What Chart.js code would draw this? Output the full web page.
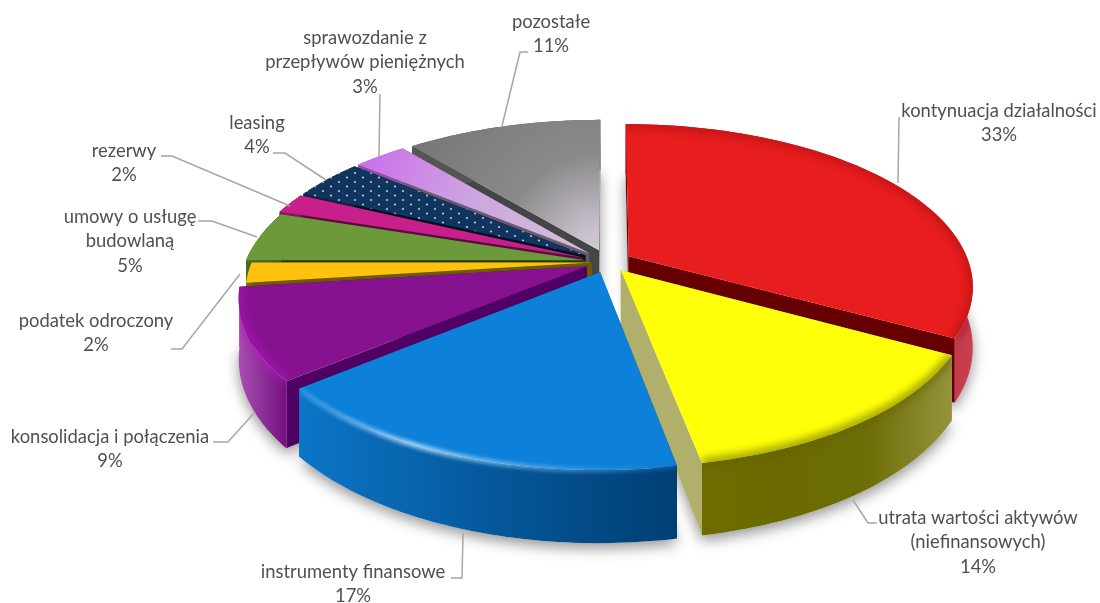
<!DOCTYPE html>
<html lang="pl">
<head>
<meta charset="utf-8">
<script src="https://cdn.jsdelivr.net/npm/chart.js"></script>
<style>
    html, body { margin: 0; padding: 0; background: #fff; }
    canvas { display: block; }
</style>
</head>
<body>
<canvas id="pie" width="1100" height="603"></canvas>
<script>
    const categories = [
        'kontynuacja działalności', 'utrata wartości aktywów (niefinansowych)', 'instrumenty finansowe',
        'konsolidacja i połączenia', 'podatek odroczony', 'umowy o usługę budowlaną', 'rezerwy', 'leasing',
        'sprawozdanie z przepływów pieniężnych', 'pozostałe'
    ];
    const values = [33, 14, 17, 9, 2, 5, 2, 4, 3, 11];

    const topColors = ['#e81d1d', '#ffff0a', '#0d80da', '#86128f', '#ffc20e', '#6c9a3a', '#c81f8c', '#12355f', '#cb78e8', '#777777'];
    const faceColors = ['#660000', '#b0b06c', '#0a4f88', '#4f0062', '#6e5a00', '#24380f', '#5c0a40', '#050f20', '#6a5a70', '#454545'];
    const wallColors = [
        ['#b01018', '#b01018', '#c84050'], ['#6c6c00', '#6a6a00', '#6e6e08', '#94943c'], ['#0c76c8', '#05589c', '#003f74'],
        ['#a850b4', '#74107e'], ['#8a6c08', '#7a6000'], ['#4c6c28', '#3e5a20'], ['#8c1464', '#8c1464'], ['#0c2440', '#0c2440'],
        ['#8c50a0', '#8c50a0'], ['#555555', '#555555']
    ];
    const rimColors = ['rgba(150,10,15,.5)', 'rgba(100,100,0,.7)', null, 'rgba(175,25,190,.65)', null, null, null, null, null, null];
    const explode = [18, 16, 17, 17, 12, 17, 20, 20, 20, 20];

    // name lines of every label, the percent line comes from values
    const labelLines = [
        ['kontynuacja działalności'], ['utrata wartości aktywów', '(niefinansowych)'], ['instrumenty finansowe'],
        ['konsolidacja i połączenia'], ['podatek odroczony'], ['umowy o usługę', 'budowlaną'], ['rezerwy'], ['leasing'],
        ['sprawozdanie z', 'przepływów pieniężnych'], ['pozostałe']
    ];
    const labelX = [999, 978, 353, 110, 96, 130, 124, 257, 365, 551];
    const labelY = [111, 518, 572, 437, 321, 217, 151, 123, 38, 22];
    const leaders = [
        [[898, 183], [899, 118], [900, 118]],
        [[853, 500], [868, 523], [877, 523]],
        [[463, 533], [462, 578], [451, 578]],
        [[255, 412], [228, 442], [213, 442]],
        [[240, 274], [182, 349], [171, 349]],
        [[257, 237], [212, 221], [198, 221]],
        [[290, 206], [172, 156], [161, 156]],
        [[326, 180], [285, 153], [273, 153]],
        [[379, 156], [380, 94]],
        [[502, 126], [520, 52], [528, 52]]
    ];

    // view of the tilted disc
    const VIEW = { a: 340, b: 158, k: 0.181, depth: 59 };

    function project(arc, angle, r, offU, offV) {
        const u = r * Math.cos(angle) + offU;
        const v = r * Math.sin(angle) + offV;
        const s = 1 / (1 - VIEW.k * v);
        return { x: arc.x + VIEW.a * u * s, y: arc.y + VIEW.b * v * s, s: s };
    }

    function sliceShape(el) {
        const arc = el.getProps(['x', 'y', 'startAngle', 'endAngle', 'outerRadius'], true);
        const mid = (arc.startAngle + arc.endAngle) / 2;
        const off = el.options.offset / arc.outerRadius;
        const offU = off * Math.cos(mid);
        const offV = off * Math.sin(mid);
        const rim = [];
        for (let i = 0; i <= 60; i++) {
            const a = arc.startAngle + (arc.endAngle - arc.startAngle) * i / 60;
            rim.push(project(arc, a, 1, offU, offV));
        }
        return { tip: project(arc, 0, 0, offU, offV), rim: rim, sinMid: Math.sin(mid) };
    }

    const down = p => ({ x: p.x, y: p.y + VIEW.depth * p.s });

    function polygon(ctx, pts) {
        ctx.beginPath();
        pts.forEach((p, i) => i ? ctx.lineTo(p.x, p.y) : ctx.moveTo(p.x, p.y));
        ctx.closePath();
    }

    function dotPattern(ctx, color) {
        const c = document.createElement('canvas');
        c.width = 16; c.height = 9;
        const p = c.getContext('2d');
        p.fillStyle = color;
        p.fillRect(0, 0, 16, 9);
        p.fillStyle = 'rgba(190,225,240,.9)';
        [[3, 2], [11, 6.5]].forEach(d => {
            p.beginPath();
            p.arc(d[0], d[1], 1.1, 0, Math.PI * 2);
            p.fill();
        });
        return ctx.createPattern(c, 'repeat');
    }

    function topFill(ctx, i, shape) {
        const t = shape.tip;
        if (i === 7) return dotPattern(ctx, topColors[i]);
        if (i === 8 || i === 9) {
            const g = ctx.createRadialGradient(t.x, t.y, 0, t.x, t.y, 240);
            if (i === 8) {
                g.addColorStop(0, '#cfc4d6');
                g.addColorStop(0.55, '#cda4e0');
                g.addColorStop(1, '#cb72ea');
            } else {
                g.addColorStop(0, '#d2cad6');
                g.addColorStop(0.12, '#c4bdc8');
                g.addColorStop(0.4, '#8a8a8a');
                g.addColorStop(1, '#727272');
            }
            return g;
        }
        return topColors[i];
    }

    function rimStroke(ctx, i, xMin, xMax) {
        if (i !== 2) return rimColors[i];
        // the blue slice catches the light on its left part
        const g = ctx.createLinearGradient(xMin, 0, xMax, 0);
        g.addColorStop(0, 'rgba(60,160,240,.8)');
        g.addColorStop(0.3, 'rgba(225,245,255,.95)');
        g.addColorStop(0.55, 'rgba(140,205,250,.8)');
        g.addColorStop(1, 'rgba(20,115,195,.6)');
        return g;
    }

    const pie3d = {
        id: 'pie3d',
        beforeDatasetDraw(chart) {
            const ctx = chart.ctx;
            const meta = chart.getDatasetMeta(0);
            const shapes = meta.data.map(sliceShape);

            // soft shadow on the page under the base
            ctx.save();
            ctx.shadowColor = 'rgba(0,0,0,.42)';
            ctx.shadowBlur = 14;
            ctx.shadowOffsetY = 5;
            ctx.fillStyle = '#fff';
            shapes.forEach(s => {
                polygon(ctx, [down(s.tip)].concat(s.rim.map(down)));
                ctx.fill();
            });
            ctx.restore();

            // back slices first
            const order = shapes.map((s, i) => i).sort((p, q) => shapes[p].sinMid - shapes[q].sinMid);
            order.forEach(i => {
                const s = shapes[i];
                const first = s.rim[0];
                const last = s.rim[s.rim.length - 1];

                // cut faces
                ctx.fillStyle = faceColors[i];
                [first, last].forEach(p => {
                    polygon(ctx, [s.tip, p, down(p), down(s.tip)]);
                    ctx.fill();
                });

                // outer wall
                const xs = s.rim.map(p => p.x);
                const xMin = Math.min(...xs);
                const xMax = Math.max(...xs);
                const wall = ctx.createLinearGradient(xMin, 0, xMax, 0);
                wallColors[i].forEach((c, n) => wall.addColorStop(n / (wallColors[i].length - 1), c));
                const wallPts = s.rim.concat(s.rim.map(down).reverse());
                polygon(ctx, wallPts);
                ctx.fillStyle = wall;
                ctx.fill();

                // top
                polygon(ctx, [s.tip].concat(s.rim));
                ctx.fillStyle = topFill(ctx, i, s);
                ctx.fill();

                // soft bevel along the rim
                const stroke = rimStroke(ctx, i, xMin, xMax);
                if (stroke) {
                    ctx.save();
                    const clip = new Path2D();
                    [[s.tip].concat(s.rim), wallPts].forEach(pts => {
                        pts.forEach((p, n) => n ? clip.lineTo(p.x, p.y) : clip.moveTo(p.x, p.y));
                        clip.closePath();
                    });
                    ctx.clip(clip);
                    ctx.filter = i === 2 ? 'blur(2px)' : 'blur(4px)';
                    ctx.strokeStyle = stroke;
                    ctx.lineWidth = i === 2 ? 4 : 8;
                    ctx.beginPath();
                    s.rim.forEach((p, n) => n ? ctx.lineTo(p.x, p.y) : ctx.moveTo(p.x, p.y));
                    ctx.stroke();
                    ctx.restore();
                }
            });
            return false;
        },
        afterDraw(chart) {
            const ctx = chart.ctx;
            ctx.save();
            ctx.strokeStyle = '#a6a6a6';
            ctx.lineWidth = 1.5;
            leaders.forEach(pts => {
                ctx.beginPath();
                pts.forEach((p, n) => n ? ctx.lineTo(p[0], p[1]) : ctx.moveTo(p[0], p[1]));
                ctx.stroke();
            });
            ctx.fillStyle = '#505050';
            ctx.font = '18.4px Lato';
            ctx.textAlign = 'center';
            ctx.textBaseline = 'middle';
            labelLines.forEach((lines, i) => {
                let y = labelY[i];
                lines.forEach(line => {
                    ctx.fillText(line, labelX[i], y);
                    y += 24.5;
                });
                ctx.fillText(values[i] + '%', labelX[i], y);
            });
            ctx.restore();
        }
    };

    new Chart(document.getElementById('pie'), {
        type: 'pie',
        data: {
            labels: categories,
            datasets: [{ data: values, backgroundColor: topColors, offset: explode, borderWidth: 0 }]
        },
        options: {
            responsive: false,
            devicePixelRatio: 1,
            animation: false,
            // puts the centre of the disc at 608, 262
            layout: { padding: { left: 116, bottom: 79 } },
            plugins: { legend: { display: false }, tooltip: { enabled: false } }
        },
        plugins: [pie3d]
    });
</script>
</body>
</html>
